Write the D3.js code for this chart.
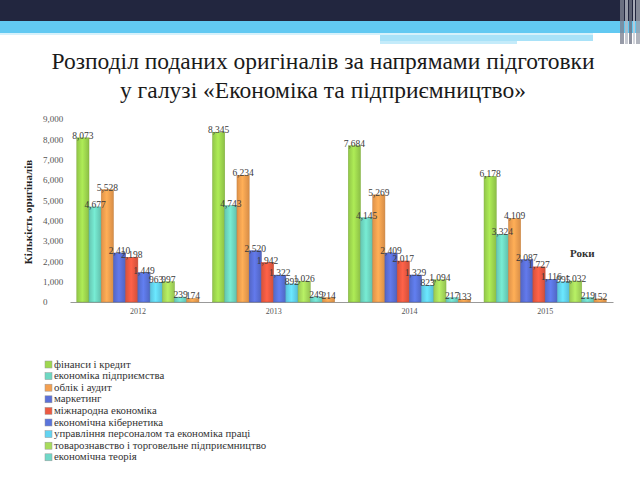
<!DOCTYPE html>
<html><head><meta charset="utf-8">
<script src="https://cdn.jsdelivr.net/npm/d3@7"></script>
<style>html,body{margin:0;padding:0;background:#fff;}svg{display:block;}</style>
</head><body>
<script>
const years = ["2012","2013","2014","2015"];
const seriesNames = [
  "фінанси і кредит",
  "економіка підприємства",
  "облік і аудит",
  "маркетинг",
  "міжнародна економіка",
  "економічна кібернетика",
  "управління персоналом та економіка праці",
  "товарознавство і торговельне підприємництво",
  "економічна теорія",
  "інше"
];
const v2012 = [8073, 4677, 5528, 2410, 2198, 1449, 963, 997, 239, 174];
const v2013 = [8345, 4743, 6234, 2520, 1942, 1322, 892, 1026, 249, 214];
const v2014 = [7684, 4145, 5269, 2409, 2017, 1329, 823, 1094, 217, 133];
const v2015 = [6178, 3324, 4109, 2087, 1727, 1116, 995, 1032, 219, 152];
const yTicks = [0,1000,2000,3000,4000,5000,6000,7000,8000,9000];
const colors = ["#9fd84f","#6ed8c2","#f4a050","#5b70d8","#ec5a42","#5a74dc","#62d4f2","#a8dc5c","#70d8c8","#f0a050"];
const legendShown = 9;

const W=640,H=480;
const svg=d3.select("body").append("svg").attr("width",W).attr("height",H);
const defs=svg.append("defs");
colors.forEach((c,i)=>{
  const g=defs.append("linearGradient").attr("id","g"+i).attr("x1","0").attr("x2","1").attr("y1","0").attr("y2","0");
  const base=d3.color(c);
  g.append("stop").attr("offset","0%").attr("stop-color",base.darker(0.25));
  g.append("stop").attr("offset","45%").attr("stop-color",base.brighter(0.25));
  g.append("stop").attr("offset","100%").attr("stop-color",base.darker(0.35));
});

// header
svg.append("rect").attr("x",0).attr("y",0).attr("width",W).attr("height",21).attr("fill","#22263f");
svg.append("rect").attr("x",0).attr("y",21).attr("width",W).attr("height",12).attr("fill","#62c9f2");
svg.append("rect").attr("x",0).attr("y",33).attr("width",593).attr("height",2).attr("fill","#d6f1fb");
svg.append("rect").attr("x",380).attr("y",35).attr("width",213).attr("height",6).attr("fill","#a9e2f8");
svg.append("rect").attr("x",380).attr("y",41).attr("width",137).attr("height",3).attr("fill","#c4ebfa");
const stripes=[[620,4,"#7d8292"],[625,3,"#b8bcc6"],[629,3,"#6f7484"],[633,2,"#c9ccd4"],[636,4,"#9ea2ae"]];
stripes.forEach(s=>svg.append("rect").attr("x",s[0]).attr("y",0).attr("width",s[1]).attr("height",44).attr("fill",s[2]).attr("opacity",0.8));

// title
const title=svg.append("text").attr("text-anchor","middle").attr("font-family","Liberation Serif, serif").attr("font-size",23.5).attr("fill","#1a1a1a");
title.append("tspan").attr("x",323).attr("y",69).text("Розподіл поданих оригіналів за напрямами підготовки");
title.append("tspan").attr("x",323).attr("y",98).text("у галузі «Економіка та підприємництво»");

// scales
const x0=d3.scaleBand().domain(years).range([70,613]).paddingInner(0.1).paddingOuter(0.05);
const x1=d3.scaleBand().domain(d3.range(10)).range([0,x0.bandwidth()]);
const y=d3.scaleLinear().domain([0,9000]).range([302,119]);

// y axis labels
const yAxis=d3.axisLeft(y).tickValues(yTicks).tickFormat(d3.format(",")).tickSize(0);
const ya=svg.append("g").attr("transform","translate(43,0)").call(yAxis);
ya.select(".domain").remove();
ya.selectAll("text").attr("text-anchor","start").attr("x",0).attr("font-family","Liberation Serif, serif").attr("font-size",9).attr("fill","#555");

// x axis
const xAxis=d3.axisBottom(x0).tickSize(0);
const xa=svg.append("g").attr("transform","translate(0,302)").call(xAxis);
xa.select(".domain").attr("stroke","#999");
xa.selectAll("text").attr("dy","1.1em").attr("font-family","Liberation Serif, serif").attr("font-size",8).attr("fill","#555");

const all=[v2012,v2013,v2014,v2015];
const fmt=d3.format(",");
years.forEach((yr,gi)=>{
  const g=svg.append("g").attr("transform",`translate(${x0(yr)},0)`);
  const vals=all[gi];
  g.selectAll("rect").data(vals).join("rect")
    .attr("x",(d,i)=>x1(i)).attr("width",x1.bandwidth())
    .attr("y",d=>y(d)).attr("height",d=>y(0)-y(d))
    .attr("fill",(d,i)=>`url(#g${i})`)
    .attr("stroke",(d,i)=>d3.color(colors[i]).darker(0.6)).attr("stroke-width",0.5);
  g.selectAll("text").data(vals).join("text")
    .attr("x",(d,i)=>x1(i)+x1.bandwidth()/2).attr("y",d=>y(d)+1)
    .attr("text-anchor","middle").attr("font-family","Liberation Serif, serif").attr("font-size",9.5)
    .attr("fill","#3a3a3a").text(d=>fmt(d));
});

// Роки
svg.append("text").attr("x",570).attr("y",257).attr("font-family","Liberation Serif, serif").attr("font-weight","bold").attr("font-size",11).attr("fill","#333").text("Роки");

// y title
svg.append("text").attr("transform","translate(32,212) rotate(-90)").attr("text-anchor","middle")
  .attr("font-family","Liberation Serif, serif").attr("font-weight","bold").attr("font-size",11).attr("fill","#222").text("Кількість оригіналів");

// legend
const lg=svg.append("g").attr("transform","translate(45,367)");
seriesNames.slice(0,legendShown).forEach((n,i)=>{
  const r=lg.append("g").attr("transform",`translate(0,${i*11.6})`);
  r.append("rect").attr("x",0).attr("y",-6).attr("width",7).attr("height",7).attr("fill",colors[i]).attr("stroke","#999").attr("stroke-width",0.5);
  r.append("text").attr("x",9).attr("y",0.5).attr("font-family","Liberation Serif, serif").attr("font-size",10.8).attr("fill","#333").text(n);
});
</script>
</body></html>
